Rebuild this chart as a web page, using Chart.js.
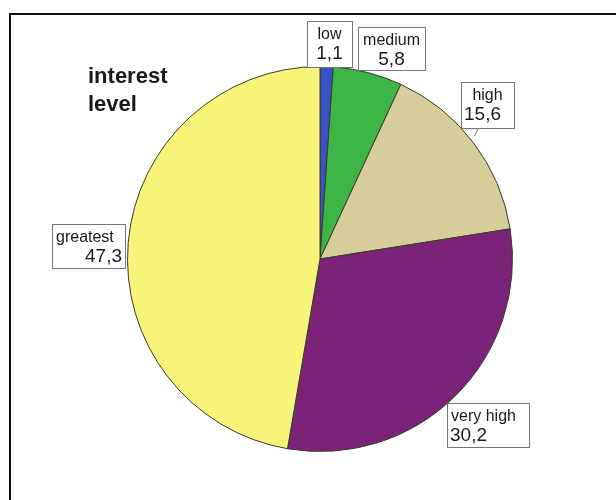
<!DOCTYPE html>
<html>
<head>
<meta charset="utf-8">
<script src="https://cdn.jsdelivr.net/npm/chart.js@4.4.0/dist/chart.umd.min.js"></script>
<style>
html,body{margin:0;padding:0;background:#fff;}
#wrap{position:relative;width:616px;height:500px;}
</style>
</head>
<body>
<div id="wrap"><canvas id="c" width="616" height="500"></canvas></div>
<script>
const categories = ['low', 'medium', 'high', 'very high', 'greatest'];
const percentValues = [1.1, 5.8, 15.6, 30.2, 47.3];
const sliceColors = ['#3a52c8', '#3cb544', '#d6cd9a', '#7a2379', '#f7f47a'];
const legendTitle = ['interest', 'level'];

// label box layout (box left, top, width, height, text alignment)
const labelBoxes = [
  {x: 307, y: 21, w: 45, h: 46, nameAlign: 'center', valAlign: 'center'},
  {x: 358, y: 27, w: 67, h: 43, nameAlign: 'center', valAlign: 'center'},
  {x: 461, y: 82, w: 53, h: 46, nameAlign: 'center', valAlign: 'left'},
  {x: 447, y: 403, w: 82, h: 44, nameAlign: 'left', valAlign: 'left'},
  {x: 52, y: 224, w: 73, h: 44, nameAlign: 'left', valAlign: 'right'}
];

const fmt = v => v.toFixed(1).replace('.', ',');

const decor = {
  id: 'decor',
  beforeDraw(chart) {
    const ctx = chart.ctx;
    ctx.save();
    ctx.fillStyle = '#fff';
    ctx.fillRect(0, 0, chart.width, chart.height);
    ctx.strokeStyle = '#111';
    ctx.lineWidth = 2;
    ctx.beginPath();
    ctx.moveTo(10, 500);
    ctx.lineTo(10, 14);
    ctx.lineTo(616, 14);
    ctx.stroke();
    ctx.restore();
  },
  afterDraw(chart) {
    const ctx = chart.ctx;
    ctx.save();
    ctx.fillStyle = '#1a1a1a';
    ctx.font = 'bold 22px "Liberation Sans", Arial, sans-serif';
    ctx.textBaseline = 'alphabetic';
    ctx.textAlign = 'left';
    ctx.fillText(legendTitle[0], 88, 83);
    ctx.fillText(legendTitle[1], 88, 111);
    // small leader ticks for the boxes of "high" and "very high"
    ctx.strokeStyle = '#777';
    ctx.lineWidth = 1;
    ctx.beginPath();
    ctx.moveTo(478.5, 128); ctx.lineTo(474.5, 136);
    ctx.stroke();
    labelBoxes.forEach((b, i) => {
      ctx.fillStyle = '#fff';
      ctx.fillRect(b.x, b.y, b.w, b.h);
      ctx.strokeStyle = '#777';
      ctx.lineWidth = 1;
      ctx.strokeRect(b.x + 0.5, b.y + 0.5, b.w, b.h);
      ctx.fillStyle = '#1a1a1a';
      ctx.font = '16px "Liberation Sans", Arial, sans-serif';
      ctx.textAlign = b.nameAlign;
      const nx = b.nameAlign === 'center' ? b.x + b.w / 2 : b.x + 4;
      ctx.fillText(categories[i], nx, b.y + 18);
      ctx.font = '19px "Liberation Sans", Arial, sans-serif';
      ctx.textAlign = b.valAlign;
      const vx = b.valAlign === 'center' ? b.x + b.w / 2 : (b.valAlign === 'left' ? b.x + 3 : b.x + b.w - 3);
      ctx.fillText(fmt(percentValues[i]), vx, b.y + 38);
    });
    ctx.restore();
  }
};

new Chart(document.getElementById('c'), {
  type: 'pie',
  data: {
    labels: categories,
    datasets: [{
      data: percentValues,
      backgroundColor: sliceColors,
      borderColor: '#3a3a2a',
      borderWidth: 1
    }]
  },
  options: {
    responsive: false,
    animation: false,
    layout: {padding: {left: 127, right: 103, top: 66, bottom: 48}},
    plugins: {legend: {display: false}, tooltip: {enabled: false}}
  },
  plugins: [decor]
});
</script>
</body>
</html>
